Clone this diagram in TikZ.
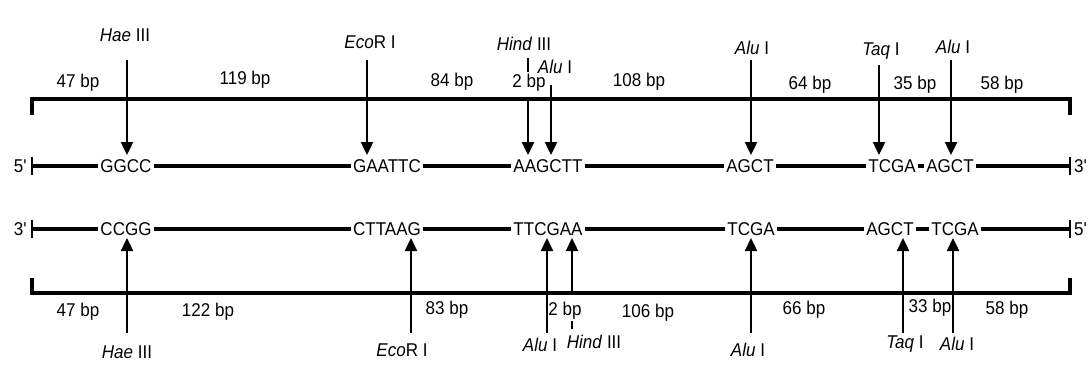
\documentclass[tikz,border=0pt]{standalone}
\usepackage{fontspec}
\setmainfont{Liberation Sans}[FakeStretch=0.92]
\usetikzlibrary{arrows.meta}
\begin{document}
\begin{tikzpicture}[x=1pt,y=-1pt,
  txt/.style={font=\fontsize{18.5}{20}\selectfont, inner sep=0pt},
  seq/.style={font=\fontsize{18.5}{20}\selectfont, fill=white, inner xsep=2pt, inner ysep=1pt},
  bar/.style={line width=3.2pt},
  strand/.style={line width=3.2pt},
  cut/.style={line width=2.4pt, -{Triangle[length=13pt,width=12pt]}},
  tick/.style={line width=2.4pt}]
\useasboundingbox (0,0) rectangle (1090,384);
\newcommand{\pr}{\textquotesingle}
% brackets
\coordinate (tl) at (32,115); \coordinate (tlc) at (32,99);
\coordinate (tr) at (1070,115); \coordinate (trc) at (1070,99);
\draw[bar] (tl) -- (tlc) -- (trc) -- (tr);
\coordinate (bl) at (32,278); \coordinate (blc) at (32,293);
\coordinate (br) at (1070,278); \coordinate (brc) at (1070,293);
\draw[bar] (bl) -- (blc) -- (brc) -- (br);
% strands
\coordinate (s1l) at (32,166); \coordinate (s1r) at (1070,166);
\coordinate (s2l) at (32,229); \coordinate (s2r) at (1070,229);
\draw[strand] (s1l) -- (s1r);
\draw[strand] (s2l) -- (s2r);
\draw[tick] ([yshift=-9pt]s1l) -- ([yshift=9pt]s1l);
\draw[tick] ([yshift=-9pt]s1r) -- ([yshift=9pt]s1r);
\draw[tick] ([yshift=-9pt]s2l) -- ([yshift=9pt]s2l);
\draw[tick] ([yshift=-9pt]s2r) -- ([yshift=9pt]s2r);
\node[txt, anchor=east] (p5a) at (27,166) {5\pr};
\node[txt, anchor=west] (p3a) at (1074,166) {3\pr};
\node[txt, anchor=east] (p3b) at (27,229) {3\pr};
\node[txt, anchor=west] (p5b) at (1074,229) {5\pr};
% top strand sequences
\node[seq] (t1) at (126,166) {GGCC};
\node[seq] (t2) at (387,166) {GAATTC};
\node[seq] (t3) at (548,166) {AAGCTT};
\node[seq] (t4) at (750,166) {AGCT};
\node[seq] (t5) at (892,166) {TCGA};
\node[seq] (t6) at (950,166) {AGCT};
% bottom strand sequences
\node[seq] (b1) at (126,229) {CCGG};
\node[seq] (b2) at (387,229) {CTTAAG};
\node[seq] (b3) at (548,229) {TTCGAA};
\node[seq] (b4) at (751,229) {TCGA};
\node[seq] (b5) at (890,229) {AGCT};
\node[seq] (b6) at (955,229) {TCGA\hspace{4pt}};
% top enzyme labels
\node[txt] (e1) at (125,35) {\textit{Hae} III};
\node[txt] (e2) at (370,42) {\textit{Eco}R I};
\node[txt] (e3) at (524,44) {\textit{Hind} III};
\node[txt] (e4) at (555,67) {\textit{Alu} I};
\node[txt] (e5) at (752,48) {\textit{Alu} I};
\node[txt] (e6) at (881,51) {\textit{Taq} I};
\node[txt] (e7) at (953,47) {\textit{Alu} I};
% top arrows
\coordinate (a1s) at (127,60);  \coordinate (a1e) at (127,155);
\coordinate (a2s) at (367,60);  \coordinate (a2e) at (367,155);
\coordinate (a3s) at (528,97);  \coordinate (a3e) at (528,155);
\coordinate (a4s) at (551,85);  \coordinate (a4e) at (551,155);
\coordinate (a5s) at (751,60);  \coordinate (a5e) at (751,155);
\coordinate (a6s) at (879,65);  \coordinate (a6e) at (879,155);
\coordinate (a7s) at (951,60);  \coordinate (a7e) at (951,155);
\foreach \i in {1,...,7} {\draw[cut] (a\i s) -- (a\i e);}
\coordinate (k1a) at (528,58); \coordinate (k1b) at (528,72);
\draw[tick] (k1a) -- (k1b);
% top bp labels
\node[txt] (u1) at (78,83) {47 bp};
\node[txt] (u2) at (245,80) {119 bp};
\node[txt] (u3) at (452,82) {84 bp};
\node[txt] (u4) at (529,83) {2 bp};
\node[txt] (u5) at (639,82) {108 bp};
\node[txt] (u6) at (810,85) {64 bp};
\node[txt] (u7) at (915,85) {35 bp};
\node[txt] (u8) at (1002,85) {58 bp};
% bottom arrows
\coordinate (c1s) at (127,333);  \coordinate (c1e) at (127,238);
\coordinate (c2s) at (411,333);  \coordinate (c2e) at (411,238);
\coordinate (c3s) at (547,333);  \coordinate (c3e) at (547,238);
\coordinate (c4s) at (572,293);  \coordinate (c4e) at (572,238);
\coordinate (c5s) at (751,333);  \coordinate (c5e) at (751,238);
\coordinate (c6s) at (903,333);  \coordinate (c6e) at (903,238);
\coordinate (c7s) at (953,333);  \coordinate (c7e) at (953,238);
\foreach \i in {1,...,7} {\draw[cut] (c\i s) -- (c\i e);}
\coordinate (k2a) at (572,321); \coordinate (k2b) at (572,329);
\draw[tick] (k2a) -- (k2b);
% bottom enzyme labels
\node[txt] (f1) at (127,352) {\textit{Hae} III};
\node[txt] (f2) at (402,350) {\textit{Eco}R I};
\node[txt] (f3) at (540,345) {\textit{Alu} I};
\node[txt] (f4) at (594,342) {\textit{Hind} III};
\node[txt] (f5) at (748,350) {\textit{Alu} I};
\node[txt] (f6) at (905,344) {\textit{Taq} I};
\node[txt] (f7) at (957,344) {\textit{Alu} I};
% bottom bp labels
\node[txt] (v1) at (78,312) {47 bp};
\node[txt] (v2) at (208,312) {122 bp};
\node[txt] (v3) at (447,310) {83 bp};
\node[txt] (v4) at (565,311) {2 bp};
\node[txt] (v5) at (648,313) {106 bp};
\node[txt] (v6) at (804,310) {66 bp};
\node[txt] (v7) at (930,308) {33 bp};
\node[txt] (v8) at (1007,310) {58 bp};
\end{tikzpicture}
\end{document}
